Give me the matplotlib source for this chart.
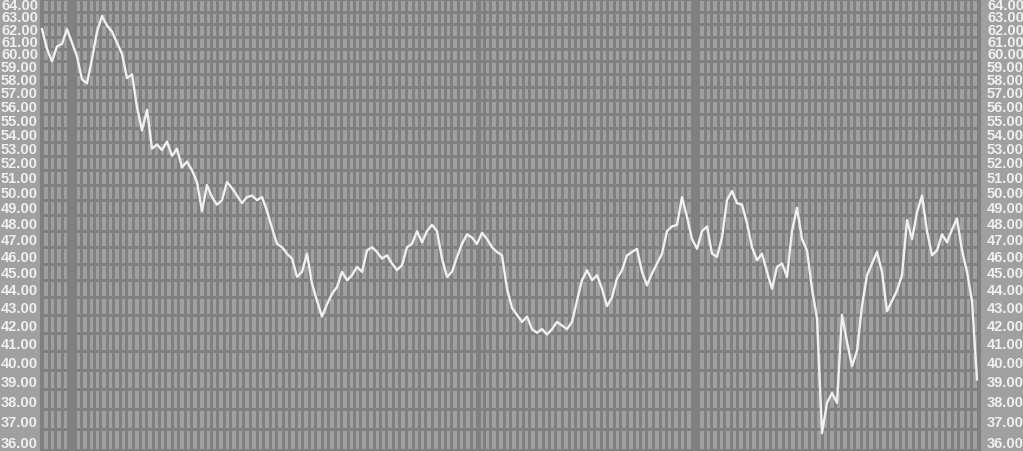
import numpy as np
import matplotlib.pyplot as plt
from matplotlib.ticker import FixedLocator, NullLocator, MultipleLocator
from matplotlib.transforms import blended_transform_factory, ScaledTranslation

# price, one value every few bars
price = [
    62.6, 61.0, 60.0, 61.2, 61.4, 62.6, 61.5, 60.4, 58.6, 58.3,
    60.2, 62.4, 63.7, 62.9, 62.4, 61.5, 60.6, 58.7, 59.0, 56.5,
    54.8, 56.3, 53.5, 53.8, 53.4, 54.0, 53.0, 53.5, 52.2, 52.6,
    52.0, 51.2, 49.3, 51.0, 50.2, 49.7, 50.0, 51.2, 50.8, 50.3,
    49.8, 50.2, 50.3, 50.0, 50.2, 49.3, 48.2, 47.2, 47.0, 46.6,
    46.3, 45.2, 45.5, 46.6, 44.8, 43.8, 42.9, 43.6, 44.2, 44.6,
    45.5, 45.0, 45.3, 45.8, 45.5, 46.8, 47.0, 46.7, 46.3, 46.5,
    46.0, 45.6, 45.9, 47.0, 47.2, 48.0, 47.3, 48.0, 48.4, 48.0,
    46.3, 45.2, 45.5, 46.4, 47.2, 47.8, 47.6, 47.2, 47.9, 47.5,
    47.0, 46.7, 46.5, 44.5, 43.4, 43.0, 42.6, 42.9, 42.2, 42.0,
    42.2, 41.9, 42.2, 42.6, 42.4, 42.2, 42.6, 43.8, 45.0, 45.6,
    45.0, 45.3, 44.5, 43.5, 44.0, 45.1, 45.6, 46.5, 46.7, 46.9,
    45.5, 44.7, 45.4, 46.0, 46.6, 48.0, 48.3, 48.4, 50.2, 48.9,
    47.5, 46.9, 48.0, 48.3, 46.6, 46.4, 47.6, 50.0, 50.6, 49.8,
    49.7, 48.5, 47.0, 46.2, 46.6, 45.5, 44.5, 45.8, 46.0, 45.2,
    48.0, 49.5, 47.5, 46.8, 44.5, 42.8, 36.8, 38.3, 38.8, 38.3,
    43.0, 41.5, 40.2, 41.0, 43.5, 45.3, 46.0, 46.7, 45.5, 43.2,
    43.8, 44.4, 45.3, 48.7, 47.5, 49.2, 50.3, 48.0, 46.5, 46.8,
    47.8, 47.3, 48.1, 48.8, 46.8, 45.5, 43.8, 39.5,
]
price_ticks = list(range(36, 65))
heavy_lines = [5.8, 87.2, 130.4]

bg = '#a0a0a0'
grid_col = '#808080'
fg = '#f0f0f0'

fig = plt.figure(figsize=(10.23, 4.51), dpi=100, facecolor=bg)
ax = fig.add_axes([40 / 1023, 0, 940 / 1023, 1])
ax.set_facecolor(bg)

x = np.arange(len(price))
ax.plot(x, price, color=fg, lw=1.7, zorder=3)

ax.set_yscale('log')
ax.set_ylim(35.95, 65.05)
ax.set_xlim(-0.4, len(price) - 0.4)
ax.yaxis.set_major_locator(FixedLocator(price_ticks))
ax.yaxis.set_minor_locator(NullLocator())
ax.xaxis.set_major_locator(MultipleLocator(1.3))
ax.xaxis.set_minor_locator(NullLocator())
ax.tick_params(length=0, labelbottom=False, labelleft=False)
ax.grid(True, color=grid_col, lw=0.75, antialiased=False)
for v in heavy_lines:
    ax.axvline(v, color=grid_col, lw=2.2, antialiased=False, zorder=1)
for s in ax.spines.values():
    s.set_color(grid_col)

# labels sit just above their grid line, on both sides
off = ScaledTranslation(0, 2 / 100, fig.dpi_scale_trans)
trans = blended_transform_factory(fig.transFigure, ax.transData) + off
for p in price_ticks:
    for xf in (1 / 1023, 987 / 1023):
        ax.text(xf, p, f'{p:.2f}', transform=trans, ha='left', va='baseline',
                color=fg, fontsize=10.5, fontweight='bold',
                family=['Liberation Sans', 'DejaVu Sans'], clip_on=False)

fig.savefig('out.png', dpi=100, facecolor=bg)
